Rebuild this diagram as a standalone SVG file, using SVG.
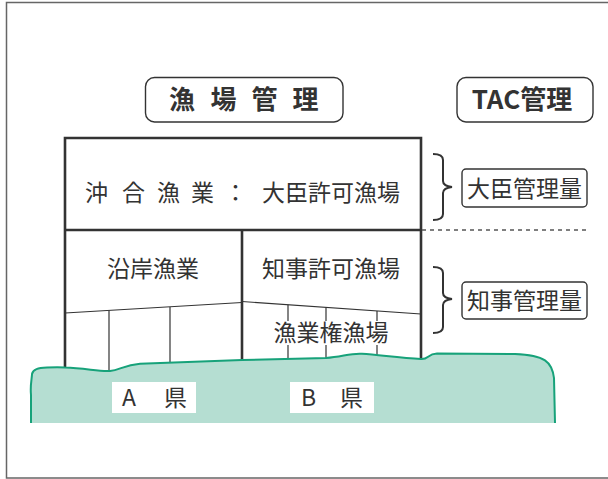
<svg xmlns="http://www.w3.org/2000/svg" width="608" height="479" viewBox="0 0 608 479">
<style>
text{font-family:"Noto Sans CJK JP","Noto Sans",sans-serif;fill:#333;font-size:23px}
.title{font-size:26px;font-weight:bold}
.box{fill:#fff;stroke:#333;stroke-width:1.4}
.thick{stroke:#333;stroke-width:2.6;fill:none}
.thin{stroke:#333;stroke-width:1.2;fill:none}
.brace{stroke:#333;stroke-width:2;fill:none}
</style>
<rect x="6.5" y="2.5" width="610" height="475.5" fill="#fff" stroke="#666" stroke-width="1.5"/>

<g id="ground">
<path d="M31,423 L31,395 C30,385 32,378 32,374 C33,369 38,368 47,367.5 C56,367 60,367 65,367.5 C85,368 100,372 110,371 C120,370 124,365 140,363.8 L242,360 L326,358 C342,357 350,353 362,353.8 C380,355 400,358 421,359 C429,359.5 427,354 437,353.5 L515,354 C545,355 552,362 554,378 L555,423 Z" fill="#b5ded2"/>
</g>

<g id="connectors">
<path class="thin" d="M65,313 L242,302.5"/>
<path class="thin" d="M242,301.5 L421,314"/>
<path class="thin" d="M109,310.5 L109,371"/>
<path class="thin" d="M170,307 L170,363"/>
<path class="thin" d="M288,304.8 L288,359" stroke="#444"/>
<path class="thin" d="M326,307.4 L326,358" stroke="#444"/>
<path class="thin" d="M377,311 L377,355" stroke="#444"/>
<path class="thick" d="M65,368 L65,138 L421,138 L421,359"/>
<path class="thick" d="M65,230 L421,230"/>
<path class="thick" d="M242,230 L242,360"/>
<path d="M422,230 L590,230" stroke="#555" stroke-width="1.5" stroke-dasharray="4 4"/>
<path class="brace" d="M433,154 Q443,154 443,160 L443,181 Q443,186 452,187 Q443,188 443,193 L443,214 Q443,220 433,220"/>
<path class="brace" d="M433,267 Q443,267 443,273 L443,293 Q443,298 452,299 Q443,300 443,305 L443,327 Q443,333 433,333"/>
<path d="M31,423 L31,395 C30,385 32,378 32,374 C33,369 38,368 47,367.5 C56,367 60,367 65,367.5 C85,368 100,372 110,371 C120,370 124,365 140,363.8 L242,360 L326,358 C342,357 350,353 362,353.8 C380,355 400,358 421,359 C429,359.5 427,354 437,353.5 L515,354 C545,355 552,362 554,378 L555,423" fill="none" stroke="#17a27a" stroke-width="2"/>
</g>

<g id="title-gyojo">
<rect class="box" x="145.5" y="77.5" width="197.5" height="44.5" rx="9"/>
<text class="title" x="169 210.5 251.5 292.5" y="108.5">漁場管理</text>
</g>
<g id="title-tac">
<rect class="box" x="457" y="77.5" width="136" height="44.5" rx="9"/>
<text class="title" x="522" y="108.5" text-anchor="middle">TAC管理</text>
</g>

<g id="okiai">
<text x="85 122 157 191 224 262 285 308 331 354 377" y="201">沖合漁業：大臣許可漁場</text>
</g>
<g id="engan">
<text x="153" y="277" text-anchor="middle">沿岸漁業</text>
</g>
<g id="chiji-kyoka">
<text x="331" y="277" text-anchor="middle">知事許可漁場</text>
</g>
<g id="gyogyoken">
<rect x="275" y="321" width="112" height="24" fill="#fff"/>
<text x="331" y="341" text-anchor="middle">漁業権漁場</text>
</g>

<g id="daijin-kanri">
<rect class="box" x="462" y="169" width="125" height="38" rx="4"/>
<text x="524.5" y="197" text-anchor="middle">大臣管理量</text>
</g>
<g id="chiji-kanri">
<rect class="box" x="462" y="282" width="125" height="37" rx="4"/>
<text x="524.5" y="309" text-anchor="middle">知事管理量</text>
</g>

<g id="a-ken">
<rect x="112" y="382" width="84" height="31" fill="#fff"/>
<text x="122 164" y="406">A県</text>
</g>
<g id="b-ken">
<rect x="290" y="382" width="84" height="31" fill="#fff"/>
<text x="301 340" y="406">B県</text>
</g>
</svg>
